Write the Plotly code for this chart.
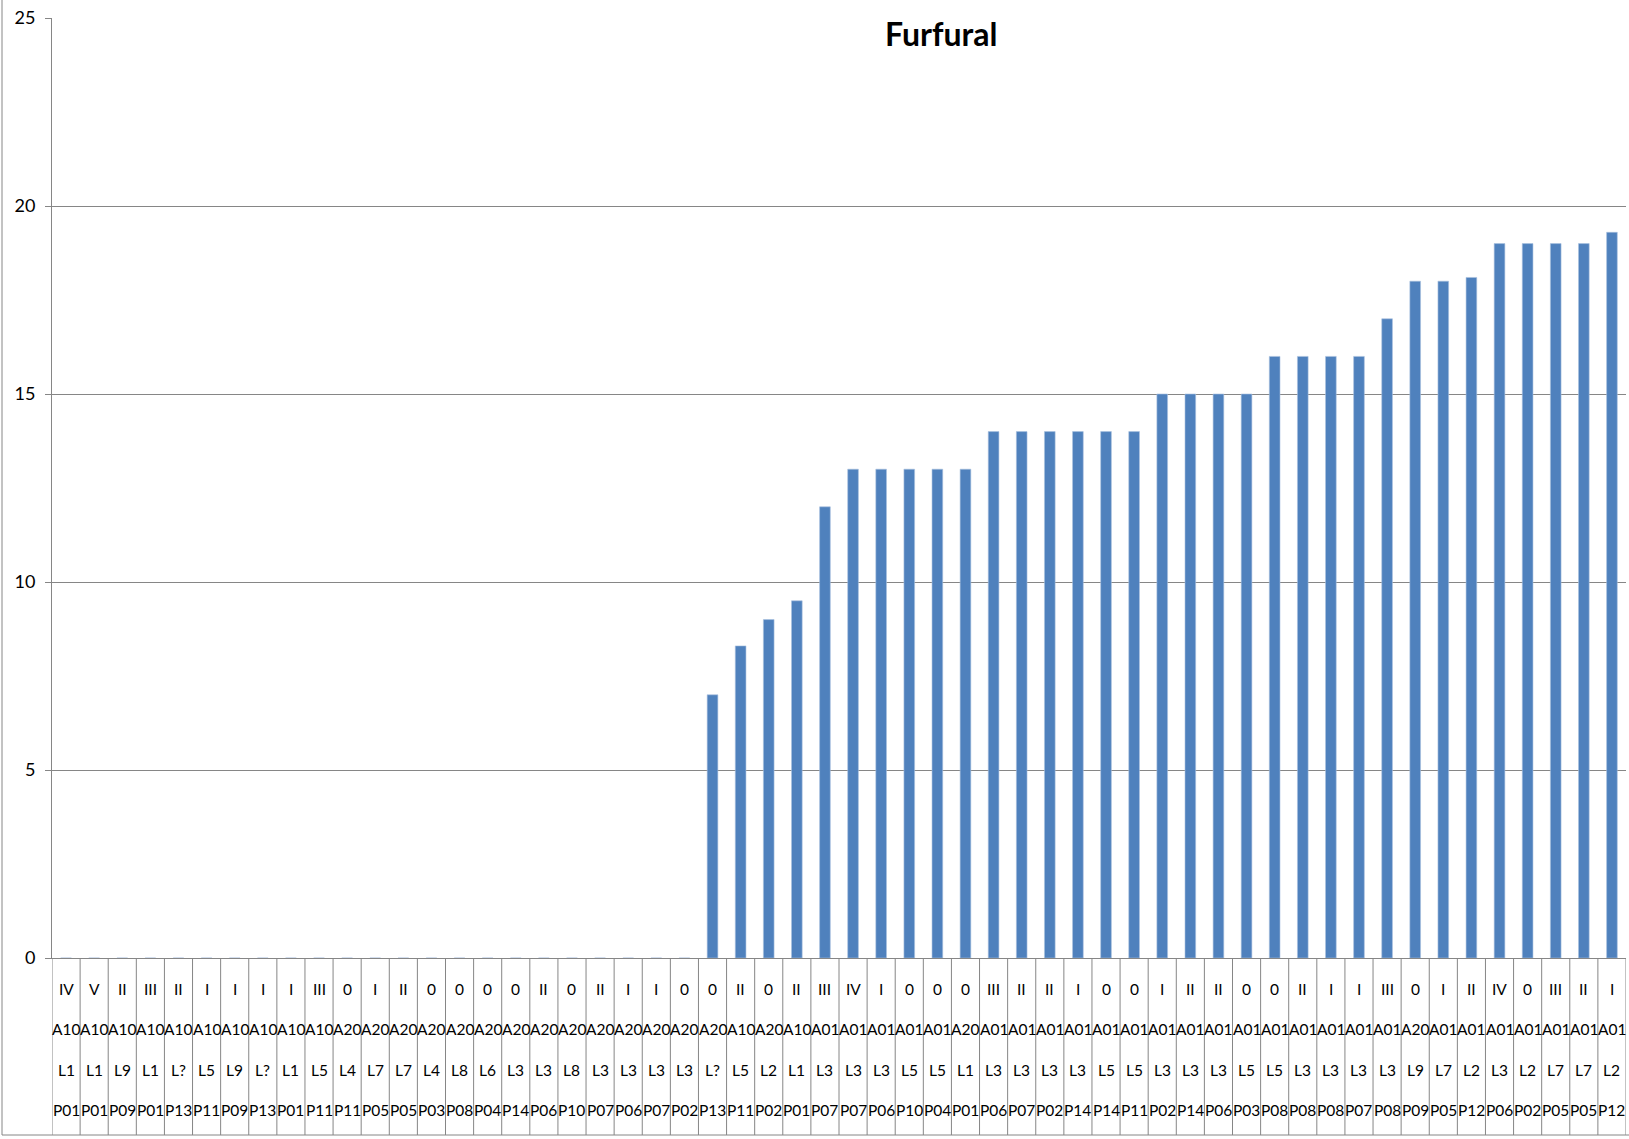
import plotly.graph_objects as go

roman = ["IV","V","II","III","II","I","I","I","I","III","0","I","II","0","0","0","0","II","0","II","I","I","0",
         "0","II","0","II","III","IV","I","0","0","0","III","II","II","I","0","0","I","II","II","0","0","II","I","I",
         "III","0","I","II","IV","0","III","II","I"]
area = ["A10"]*10 + ["A20"]*14 + ["A10","A20","A10"] + ["A01"]*5 + ["A20"] + ["A01"]*15 + ["A20"] + ["A01"]*7
lot = ["L1","L1","L9","L1","L?","L5","L9","L?","L1","L5","L4","L7","L7","L4","L8","L6","L3","L3","L8","L3","L3",
       "L3","L3","L?","L5","L2","L1","L3","L3","L3","L5","L5","L1","L3","L3","L3","L3","L5","L5","L3","L3","L3",
       "L5","L5","L3","L3","L3","L3","L9","L7","L2","L3","L2","L7","L7","L2"]
plant = ["P01","P01","P09","P01","P13","P11","P09","P13","P01","P11","P11","P05","P05","P03","P08","P04","P14",
         "P06","P10","P07","P06","P07","P02","P13","P11","P02","P01","P07","P07","P06","P10","P04","P01","P06",
         "P07","P02","P14","P14","P11","P02","P14","P06","P03","P08","P08","P08","P07","P08","P09","P05","P12",
         "P06","P02","P05","P05","P12"]
furfural = [0]*23 + [7, 8.3, 9, 9.5, 12, 13, 13, 13, 13, 13, 14, 14, 14, 14, 14, 14, 15, 15, 15, 15,
                     16, 16, 16, 16, 17, 18, 18, 18.1, 19, 19, 19, 19, 19.3]
y_ticks = [0, 5, 10, 15, 20, 25]

n = len(furfural)
xs = list(range(n))
W, H = 1629, 1139
L, R, T, B = 52, 3, 18, 181
ph = H - T - B
pw = W - L - R

def py(ypx):
    return (H - B - ypx) / ph

def px(xpx):
    return (xpx - L) / pw

grey = "#868686"
fig = go.Figure(go.Bar(x=xs, y=furfural, marker=dict(color="#4F81BD", line=dict(color="#A9C1DF", width=0.6)),
                       width=0.38, hoverinfo="y"))

rows = [roman, area, lot, plant]
row_y = [989, 1029, 1070, 1110]
ann = []
for r, ypx in zip(rows, row_y):
    for i, t in enumerate(r):
        ann.append(dict(x=i, y=py(ypx), xref="x", yref="paper", text=t, showarrow=False,
                        xanchor="center", yanchor="middle",
                        font=dict(family="Lato", size=15.5, color="#000000")))
ann.append(dict(x=px(941), y=py(33), xref="paper", yref="paper", text="<b>Furfural</b>", showarrow=False,
                xanchor="center", yanchor="middle", font=dict(family="Lato", size=32, color="#000000")))

shapes = []
bottom = py(1135)
for k in range(n + 1):
    shapes.append(dict(type="line", xref="x", yref="paper", x0=k - 0.5, x1=k - 0.5, y0=0, y1=bottom,
                       line=dict(color=grey, width=1)))
# outer chart frame
shapes.append(dict(type="line", xref="paper", yref="paper", x0=px(2), x1=px(2), y0=py(0), y1=bottom,
                   line=dict(color=grey, width=1)))
shapes.append(dict(type="line", xref="paper", yref="paper", x0=px(2), x1=px(W), y0=bottom, y1=bottom,
                   line=dict(color=grey, width=1)))

fig.update_layout(
    width=W, height=H,
    margin=dict(l=L, r=R, t=T, b=B, pad=0),
    paper_bgcolor="white", plot_bgcolor="white",
    showlegend=False,
    annotations=ann, shapes=shapes,
    xaxis=dict(range=[-0.5, n - 0.5], showticklabels=False, showgrid=False, zeroline=False,
               showline=True, linecolor=grey, linewidth=1, ticks=""),
    yaxis=dict(range=[0, 25], tickvals=y_ticks, showgrid=True, gridcolor=grey, gridwidth=1,
               zeroline=False, showline=True, linecolor=grey, linewidth=1,
               ticks="outside", ticklen=6, tickcolor=grey, ticklabelstandoff=6,
               tickfont=dict(family="Lato", size=18, color="#000000")),
)
fig.write_html("out.html", config={"displayModeBar": False},
               post_script="document.body.style.margin='0';document.body.style.overflow='hidden';")
